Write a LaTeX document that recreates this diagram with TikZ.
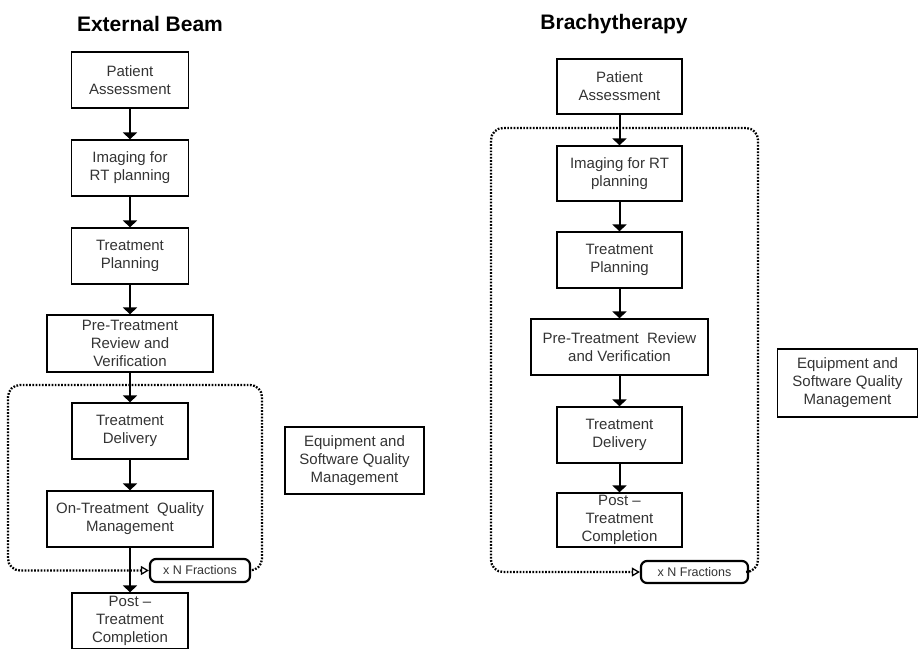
\documentclass[tikz,border=0pt]{standalone}
\usepackage{fontspec}
\setmainfont{Liberation Sans}
\usetikzlibrary{arrows.meta}

\begin{document}
\begin{tikzpicture}[x = 1pt, y = -1pt,
        stage/.style = {draw, line width = 1.2pt, align = center,
            inner sep = 0pt, text = black!80,
            font = \fontsize{15}{18}\selectfont},
        fractions/.style = {draw, line width = 2.2pt, rounded corners = 6pt,
            inner sep = 0pt, text = black!80,
            font = \fontsize{12.5}{15}\selectfont},
        heading/.style = {anchor = base, font = \fontsize{21}{25}\selectfont\bfseries},
        flow/.style = {line width = 2pt, -{Triangle[length = 7pt, width = 14pt]}},
        cycle/.style = {line width = 2.3pt, dash pattern = on 1.7pt off 1.5pt,
            rounded corners = 12pt,
            -{Triangle[open, length = 8pt, width = 9pt, line width = 1.3pt]}}]

            \useasboundingbox (0, 0) rectangle (918, 648);

            % External Beam
            \node [heading] (title1) at (150, 31) {External Beam};

            \node [stage, minimum width = 117pt, minimum height = 56pt]
                  (pa1) at (130, 80) {Patient\\Assessment};
            \node [stage, minimum width = 117pt, minimum height = 56pt]
                  (im1) at (130, 168) {Imaging for\\RT planning};
            \node [stage, minimum width = 117pt, minimum height = 56pt]
                  (tp1) at (130, 256) {Treatment\\Planning};
            \node [stage, minimum width = 166pt, minimum height = 57pt]
                  (pr1) at (130, 343.5) {Pre-Treatment\\Review and\\Verification};
            \node [stage, minimum width = 116pt, minimum height = 56pt]
                  (td1) at (130, 431) {Treatment\\Delivery};
            \node [stage, minimum width = 166pt, minimum height = 56pt]
                  (oq1) at (130, 519) {On-Treatment~~Quality\\Management};
            \node [stage, minimum width = 116pt, minimum height = 56pt]
                  (po1) at (130, 621) {Post --\\Treatment\\Completion};
            \node [fractions, minimum width = 100pt, minimum height = 23pt]
                  (xn1) at (200, 570.5) {x N Fractions};
            \node [stage, minimum width = 139pt, minimum height = 67pt]
                  (eq1) at (354.5, 460.5) {Equipment and\\Software Quality\\Management};

            \draw [flow] (pa1) -- (im1);
            \draw [flow] (im1) -- (tp1);
            \draw [flow] (tp1) -- (pr1);
            \draw [flow] (pr1) -- (td1);
            \draw [flow] (td1) -- (oq1);
            \draw [flow] (oq1) -- (po1);
            \draw [cycle] (xn1.east) -| (262, 385) -| (8, 570.5) -- (xn1.west); % repeat loop

            % Brachytherapy
            \node [heading] (title2) at (614, 29) {Brachytherapy};

            \node [stage, minimum width = 125pt, minimum height = 55pt]
                  (pa2) at (619.5, 86.5) {Patient\\Assessment};
            \node [stage, minimum width = 125pt, minimum height = 55pt]
                  (im2) at (619.5, 173.5) {Imaging for RT\\planning};
            \node [stage, minimum width = 125pt, minimum height = 56pt]
                  (tp2) at (619.5, 260) {Treatment\\Planning};
            \node [stage, minimum width = 177pt, minimum height = 56pt]
                  (pr2) at (619.5, 347) {Pre-Treatment~~Review\\and Verification};
            \node [stage, minimum width = 125pt, minimum height = 56pt]
                  (td2) at (619.5, 435) {Treatment\\Delivery};
            \node [stage, minimum width = 125pt, minimum height = 54pt]
                  (po2) at (619.5, 520) {Post --\\Treatment\\Completion};
            \node [fractions, minimum width = 107pt, minimum height = 22pt]
                  (xn2) at (694.5, 572) {x N Fractions};
            \node [stage, minimum width = 140pt, minimum height = 68pt]
                  (eq2) at (847.5, 383) {Equipment and\\Software Quality\\Management};

            \draw [flow] (pa2) -- (im2);
            \draw [flow] (im2) -- (tp2);
            \draw [flow] (tp2) -- (pr2);
            \draw [flow] (pr2) -- (td2);
            \draw [flow] (td2) -- (po2);
            \draw [cycle] (xn2.east) -| (758, 128) -| (491, 572) -- (xn2.west); % repeat loop
        \end{tikzpicture}
\end{document}
